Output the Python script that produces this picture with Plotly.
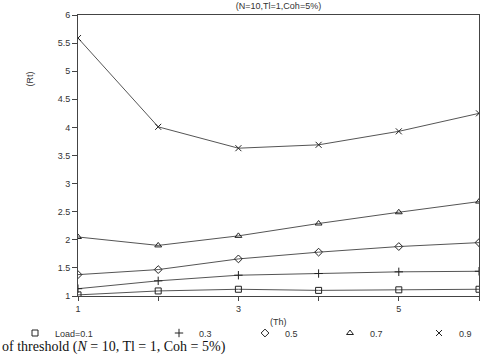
import plotly.graph_objects as go

th = [1, 2, 3, 4, 5, 6]
th_labels = ["1", "", "3", "", "5", ""]
rt_ticks = [1, 1.5, 2, 2.5, 3, 3.5, 4, 4.5, 5, 5.5, 6]
rt_tick_labels = ["1", "1.5", "2", "2.5", "3", "3.5", "4", "4.5", "5", "5.5", "6"]
load_names = ["Load=0.1", "0.3", "0.5", "0.7", "0.9"]
rt_01 = [1.02, 1.09, 1.12, 1.10, 1.11, 1.12]
rt_03 = [1.13, 1.27, 1.37, 1.40, 1.43, 1.44]
rt_05 = [1.38, 1.47, 1.66, 1.78, 1.88, 1.95]
rt_07 = [2.05, 1.90, 2.07, 2.29, 2.49, 2.68]
rt_09 = [5.59, 4.01, 3.63, 3.69, 3.93, 4.25]
series = [rt_01, rt_03, rt_05, rt_07, rt_09]
symbols = ["square-open", "cross-thin-open", "diamond-open", "triangle-up-open", "x-thin-open"]
legend_left_px = [15, 159, 245, 330, 419]

font = "Liberation Sans, DejaVu Sans, sans-serif"
fig = go.Figure()
legend_ids = ["legend", "legend2", "legend3", "legend4", "legend5"]
for name, ys, sym, lid in zip(load_names, series, symbols, legend_ids):
    mk = dict(symbol=sym, size=6, color="#222222", line=dict(width=1, color="#222222"))
    fig.add_trace(go.Scatter(
        x=th, y=ys, mode="lines+markers", name=name, showlegend=False,
        line=dict(color="#555555", width=1), marker=mk,
    ))
    fig.add_trace(go.Scatter(
        x=[None], y=[None], mode="markers", name=name,
        marker=mk, showlegend=True, legend=lid,
    ))

layout_legends = {}
for lid, lx in zip(legend_ids, legend_left_px):
    layout_legends[lid] = dict(
        orientation="h", x=lx / 492, xref="container", y=(356 - 333) / 356, yref="container",
        yanchor="middle", xanchor="left", font=dict(size=9, color="#333333"),
        itemwidth=30, bgcolor="rgba(0,0,0,0)")

fig.update_layout(
    width=492, height=356,
    margin=dict(l=78, r=13, t=15, b=60, autoexpand=False),
    paper_bgcolor="white", plot_bgcolor="white",
    font=dict(family=font, size=9, color="#333333"),
    showlegend=True,
    title=dict(text="(N=10,Tl=1,Coh=5%)", x=0.5, xref="paper", y=(356 - 6) / 356,
               yanchor="middle", font=dict(size=9, color="#333333")),
    **layout_legends,
)
fig.update_xaxes(range=[1, 6], tickvals=th, ticktext=th_labels,
                 ticks="outside", ticklen=4, tickcolor="#444", showline=True,
                 linecolor="#444", linewidth=1, mirror=True, showgrid=False, zeroline=False)
fig.update_yaxes(range=[1, 6], tickvals=rt_ticks, ticktext=rt_tick_labels,
                 ticks="outside", ticklen=5, tickcolor="#444", showline=True,
                 linecolor="#444", linewidth=1, mirror=True, showgrid=False, zeroline=False)
fig.add_annotation(text="(Rt)", textangle=-90, xref="paper", yref="paper",
                   x=-56 / 401, y=(296 - 70) / 281,
                   showarrow=False, font=dict(size=9, color="#333333"))
fig.add_annotation(text="(Th)", xref="paper", yref="paper",
                   x=0.5, y=-(322 - 296) / 281, yanchor="middle",
                   showarrow=False, font=dict(size=9, color="#333333"))
fig.add_annotation(text="of threshold (<i>N</i> = 10, Tl = 1, Coh = 5%)",
                   xref="paper", yref="paper", x=-78 / 401, y=-(347 - 296) / 281, xanchor="left",
                   yanchor="middle", showarrow=False,
                   font=dict(family="Liberation Serif, Times New Roman, serif", size=14, color="#111111"))
fig.write_html("out.html")
